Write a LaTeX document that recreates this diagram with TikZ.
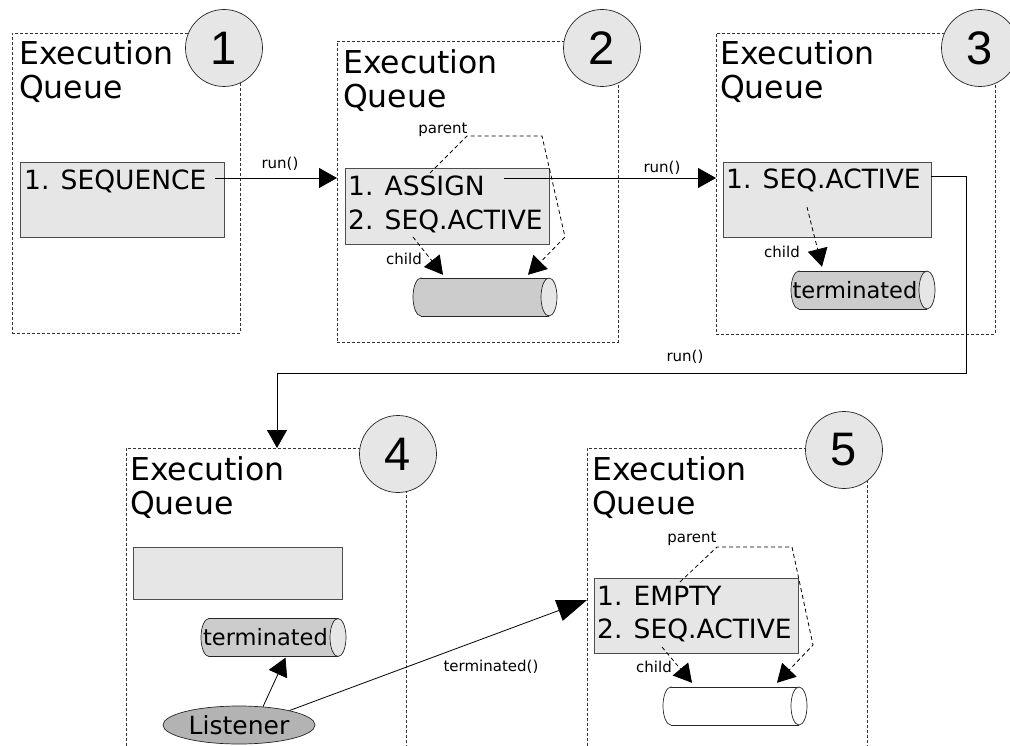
\documentclass[tikz,border=0pt]{standalone}
\usepackage{fontspec}
\setmainfont{DejaVu Sans}
\newfontfamily\digitfont{Liberation Sans}
\usetikzlibrary{arrows.meta,calc,shapes.geometric}

\definecolor{boxgray}{HTML}{E6E6E6}
\definecolor{tubegray}{HTML}{CCCCCC}
\definecolor{capgray}{HTML}{E6E6E6}
\definecolor{listgray}{HTML}{B3B3B3}
\definecolor{edgegray}{HTML}{4D4D4D}

% horizontal tube: left x, right x, centre y, body colour, end colour
\newcommand\qtube[5]{%
  \filldraw[tubeline, fill=#4] ({#1+8},#3) ellipse (8 and 19);
  \fill[#4] ({#1+8},{#3-19}) rectangle ({#2-8},{#3+19});
  \draw[tubeline] ({#1+8},{#3-19}) -- ({#2-8},{#3-19}) ({#1+8},{#3+19}) -- ({#2-8},{#3+19});
  \filldraw[tubeline, fill=#5] ({#2-8},#3) ellipse (8 and 19);
}

\begin{document}
\begin{tikzpicture}[x=1pt,y=-1pt,
  panel/.style={draw=black!80, dash pattern=on 3pt off 2pt, line width=0.7pt, anchor=north west, inner sep=0pt, outer sep=0pt},
  numcirc/.style={circle, draw=black!85, line width=0.7pt, fill=boxgray, minimum size=77pt, inner sep=0pt, font=\digitfont\fontsize{47}{47}\selectfont},
  qbox/.style={draw=edgegray, fill=boxgray, line width=0.9pt, anchor=north west, inner sep=0pt, outer sep=0pt},
  qtitle/.style={anchor=base west, inner sep=0pt, align=left, font=\fontsize{31.5}{34}\selectfont},
  qentry/.style={anchor=base west, inner sep=0pt, font=\fontsize{26.5}{30}\selectfont},
  tubeline/.style={draw=black!85, line width=0.7pt},
  tubetext/.style={inner sep=0pt, minimum height=38pt, font=\fontsize{22.5}{24}\selectfont},
  listener/.style={ellipse, draw=black!85, fill=listgray, line width=0.7pt, minimum width=152pt, minimum height=38pt, inner sep=0pt, font=\fontsize{25}{28}\selectfont},
  lbl/.style={inner sep=0pt, font=\fontsize{15}{17}\selectfont},
  qflow/.style={draw=black, line width=0.8pt, -{Triangle[length=18pt,width=20pt]}},
  dlink/.style={qflow, dash pattern=on 4pt off 3pt},
]
\useasboundingbox (0,0) rectangle (1010,746);
\fill[white] (0,0) rectangle (1010,746);

% dashed panels
\node[panel, minimum width=228pt, minimum height=300pt] (p1) at (12,33) {};
\node[panel, minimum width=281pt, minimum height=301pt] (p2) at (337,41) {};
\node[panel, minimum width=279pt, minimum height=301pt] (p3) at (716,33) {};
\node[panel, minimum width=280pt, minimum height=360pt] (p4) at (126,448) {};
\node[panel, minimum width=280pt, minimum height=360pt] (p5) at (587,448) {};

% step numbers
\node[numcirc] (c1) at (224,48) {1};
\node[numcirc] (c2) at (602,48) {2};
\node[numcirc] (c3) at (980,48) {3};
\node[numcirc] (c4) at (398,454) {4};
\node[numcirc] (c5) at (844,450) {5};

% titles (anchored on the baseline of the second line)
\node[qtitle] (q1) at (19,99) {Execution\\Queue};
\node[qtitle] (q2) at (343,108) {Execution\\Queue};
\node[qtitle] (q3) at (720,99) {Execution\\Queue};
\node[qtitle] (q4) at (130,514) {Execution\\Queue};
\node[qtitle] (q5) at (592,514) {Execution\\Queue};

% queue contents
\node[qbox, minimum width=204pt, minimum height=75pt] (b1) at (20,162) {};
\node[qbox, minimum width=204pt, minimum height=76pt] (b2) at (345,168) {};
\node[qbox, minimum width=208pt, minimum height=75pt] (b3) at (723,162) {};
\node[qbox, minimum width=209pt, minimum height=52pt] (b4) at (133,547) {};
\node[qbox, minimum width=204pt, minimum height=75pt] (b5) at (594,578) {};

\node[qentry] (b1t) at (24,190) {1. SEQUENCE};
\node[qentry] (b2a) at (348,196) {1. ASSIGN};
\node[qentry] (b2b) at (348,230) {2. SEQ.ACTIVE};
\node[qentry] (b3t) at (726,189) {1. SEQ.ACTIVE};
\node[qentry] (b5a) at (597,605) {1. EMPTY};
\node[qentry] (b5b) at (597,638) {2. SEQ.ACTIVE};

% tubes
\qtube{413}{557}{297}{tubegray}{capgray}
\node[tubetext, minimum width=128pt] (t2) at (477,297) {};
\qtube{791}{935}{290}{tubegray}{capgray}
\node[tubetext, minimum width=128pt] (t3) at (855,290) {terminated};
\qtube{201}{346}{637.5}{tubegray}{capgray}
\node[tubetext, minimum width=129pt] (t4) at (265.5,637.5) {terminated};
\qtube{663}{807}{706}{white}{white}
\node[tubetext, minimum width=128pt] (t5) at (727,706) {};

% listener
\node[listener] (lis) at (239,725) {Listener};

% run() transitions
\coordinate (s1) at ($(b1t.base east)+(8,-12)$);
\draw[qflow] (s1) -- (s1 -| p2.west);
\coordinate (s2) at ($(b2a.base east)+(19,-18)$);
\draw[qflow] (s2) -- (s2 -| p3.west);
\coordinate (s3) at ($(b3t.base east)+(10,-13)$);
\coordinate (k3) at (966,373);
\draw[qflow] (s3) -| (k3) -| ($(p4.north west)+(151,0)$);

% parent / child links
\draw[dlink] ($(b2.north west)+(68,69)$) -- ($(t2.north)+(-34,-3)$);
\draw[dlink] ($(b2.north west)+(85,5)$) -- ++(37,-37) -- ++(75,0) -- ++(23,101) -- ($(t2.north)+(51,-3)$);
\draw[dlink] ($(b3.north west)+(84,45)$) -- ($(t3.north)+(-33,-4)$);
\draw[dlink] ($(b5.north west)+(68,69)$) -- ($(t5.north)+(-35,-4)$);
\draw[dlink] ($(b5.north west)+(86,4)$) -- ++(37,-35) -- ++(75,0) -- ++(21,98) -- ($(t5.north)+(50,-4)$);

% listener notifications
\draw[qflow] ($(lis.north)+(24,1)$) -- ($(t4.south)+(20,1)$);
\draw[draw=black, line width=0.8pt, -{Triangle[length=30pt,width=22pt]}] (lis.16) -- ($(p5.north west)+(0,152)$);

% labels
\node[lbl] (run1) at (280,164) {run()};
\node[lbl] (run2) at (662,168) {run()};
\node[lbl] (run3) at (685,357) {run()};
\node[lbl] (par2) at (443,130) {parent};
\node[lbl] (ch2) at (404,259) {child};
\node[lbl] (ch3) at (782,252) {child};
\node[lbl] (par5) at (692,539) {parent};
\node[lbl] (ch5) at (654,667) {child};
\node[lbl] (term) at (491,667) {terminated()};
\end{tikzpicture}
\end{document}
